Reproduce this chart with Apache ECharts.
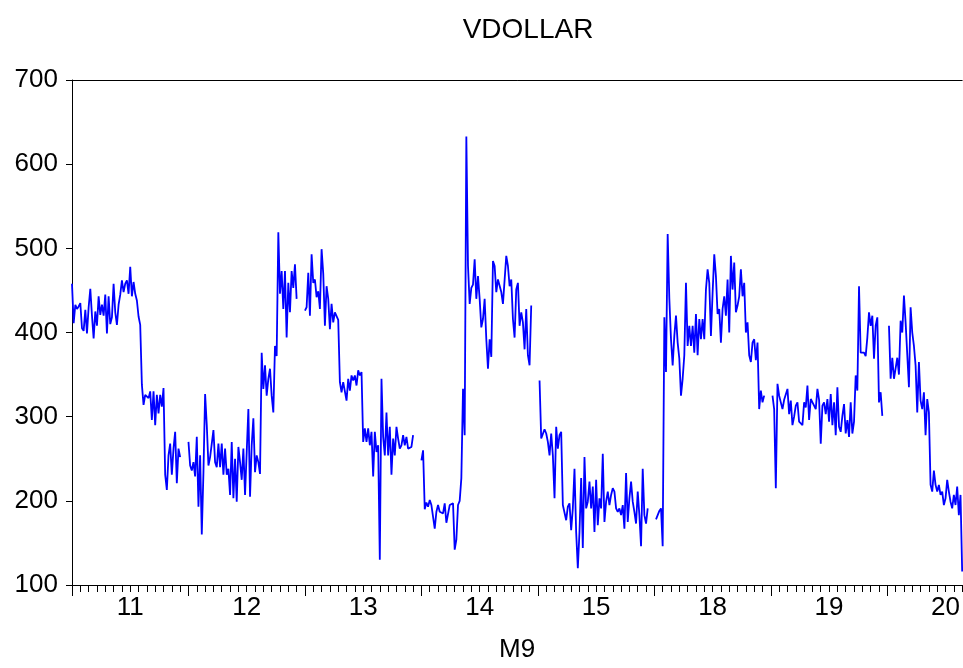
<!DOCTYPE html>
<html><head><meta charset="utf-8">
<script src="https://cdn.jsdelivr.net/npm/echarts@6/dist/echarts.min.js"></script>
<style>html,body{margin:0;padding:0;background:#fff}#c{width:963px;height:668px}</style>
</head><body><div id="c"></div>
<script>
const dayLabels = ['11','12','13','14','15','18','19','20'];
const pointsPerDay = 70;
const tickStep = 5;
const yTicks = [100,200,300,400,500,600,700];

const day11 = [458,411,433,428,431,435,405,402,427,399,
430,452,420,393,425,408,443,421,433,420,
445,399,443,410,418,458,424,409,433,445,
462,448,458,462,446,478,443,460,446,438,
419,409,338,314,326,328,322,330,296,330,
290,326,304,326,312,334,231,213,254,268,
231,262,282,221,262,252,null,null,null,null];

const day12 = [270,242,236,246,229,276,193,254,160,234,
327,290,242,252,250,284,246,240,268,240,
268,231,262,231,238,207,270,203,250,199,
264,246,225,262,207,258,309,205,266,298,
234,254,246,232,
376,333,361,325,345,357,325,305,384,372,
519,446,473,428,473,394,459,424,473,453,481,440,
null,null,null,null];

const day13 = [426,430,471,420,493,459,463,442,449,428,
499,470,408,455,440,404,434,412,424,424,
415,341,329,341,339,319,345,331,349,343,
349,337,355,349,353,270,286,270,286,266,
282,229,282,258,266,130,345,276,254,305,
254,288,231,274,254,288,274,262,266,278,
266,276,262,264,264,278,null,null,null,null];

const day14 = [248,260,190,198,193,201,195,193,167,187,
195,187,187,185,197,174,172,195,193,197,
142,154,195,200,227,333,278,633,479,434,
453,457,487,440,467,440,406,416,440,392,
357,392,371,485,479,448,463,465,448,434,
436,491,479,455,463,416,394,451,459,408,
424,412,380,428,373,361,432,null,null,null];

const day15 = [null,
343,274,276,285,280,270,254,280,254,203,
288,262,278,282,195,193,177,193,197,165,
191,238,163,120,163,227,144,252,191,199,
223,191,217,163,225,171,203,191,256,175,
199,211,195,207,215,211,191,187,191,183,
195,167,233,175,203,223,199,187,173,211,
183,146,238,183,173,191,null,null,null];

const day18 = [null,
178,183,188,191,146,418,353,517,440,392,
361,396,420,388,369,325,345,373,459,384,
408,384,408,376,422,373,416,392,416,392,
451,475,459,396,447,493,467,422,428,388,
428,443,420,463,400,491,451,483,424,432,
443,475,443,459,400,412,373,365,388,392,
367,388,309,331,317,325,null,null,null];

const day19 = [null,
325,309,215,339,325,317,309,320,321,333,
303,319,290,300,313,317,294,292,290,317,
311,337,296,321,323,313,309,333,320,268,
313,317,303,321,294,327,290,317,278,335,
288,282,301,315,280,296,276,317,280,294,
349,331,455,376,376,376,372,394,424,408,
420,369,408,418,317,329,301,null,null];

const day20 = [null,
408,345,370,345,343,370,350,414,400,444,
412,410,335,430,400,384,361,305,365,319,
309,329,278,321,305,219,211,236,219,211,
219,207,211,195,203,225,211,199,191,207,
195,217,183,207,116];

const values = [].concat(day11, day12, day13, day14, day15, day18, day19, day20);
const cats = values.map((_, i) => String(i));
const FONT = '"Liberation Sans", Arial, sans-serif';
const txt = {fontFamily: FONT, fontSize: 26, color: '#000'};

const chart = echarts.init(document.getElementById('c'), null, {renderer: 'canvas'});
chart.setOption({
  animation: false,
  backgroundColor: '#fff',
  title: {text: 'VDOLLAR', left: 523, top: 11, textAlign: 'center',
    textStyle: {fontFamily: FONT, fontSize: 28, fontWeight: 'normal', color: '#000'}},
  grid: {left: 72, right: 0, top: 80, bottom: 81, containLabel: false},
  xAxis: [
    {type: 'category', data: cats, boundaryGap: false, position: 'bottom',
      axisLine: {lineStyle: {color: '#000', width: 1}},
      axisTick: {interval: (i) => i % tickStep === 0 && i % pointsPerDay !== 0, length: 7, lineStyle: {color: '#000'}},
      axisLabel: {show: false}, splitLine: {show: false}},
    {type: 'category', data: cats, boundaryGap: false, position: 'bottom',
      axisLine: {show: false},
      axisTick: {interval: (i) => i % pointsPerDay === 0, length: 11, lineStyle: {color: '#000'}},
      axisLabel: Object.assign({interval: (i) => i % pointsPerDay === 35,
        formatter: (v, i) => dayLabels[Math.floor(i / pointsPerDay)], margin: 10}, txt),
      splitLine: {show: false},
      name: 'M9', nameLocation: 'middle', nameGap: 52, nameTextStyle: txt},
    {type: 'category', data: cats, boundaryGap: false, position: 'top',
      axisLine: {lineStyle: {color: '#000', width: 1}},
      axisTick: {show: false}, axisLabel: {show: false}, splitLine: {show: false}}
  ],
  yAxis: {type: 'value', min: yTicks[0], max: yTicks[yTicks.length - 1], interval: 100,
    axisLine: {show: true, lineStyle: {color: '#000'}},
    axisTick: {show: true, length: 6, lineStyle: {color: '#000'}},
    axisLabel: Object.assign({margin: 14}, txt),
    splitLine: {show: false}},
  series: [{type: 'line', data: values, xAxisIndex: 0, showSymbol: false, symbol: 'none',
    connectNulls: false, lineStyle: {color: '#0000ff', width: 1.8}}]
});
</script></body></html>
